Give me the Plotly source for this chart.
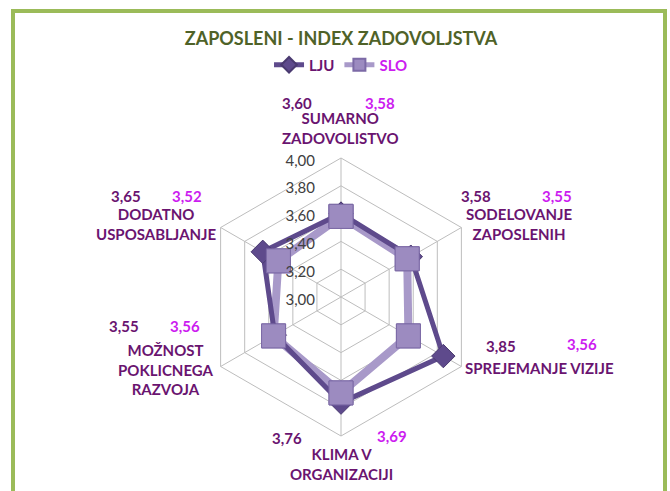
import plotly.graph_objects as go

# ---- data ----
categories = ["SUMARNO ZADOVOLISTVO", "SODELOVANJE ZAPOSLENIH", "SPREJEMANJE VIZIJE",
              "KLIMA V ORGANIZACIJI", "MOŽNOST POKLICNEGA RAZVOJA", "DODATNO USPOSABLJANJE"]
category_labels = ["SUMARNO<br>ZADOVOLISTVO", "SODELOVANJE<br>ZAPOSLENIH", "SPREJEMANJE VIZIJE",
                   "KLIMA V<br>ORGANIZACIJI", "MOŽNOST<br>POKLICNEGA<br>RAZVOJA", "DODATNO<br>USPOSABLJANJE"]
lju = [3.60, 3.58, 3.85, 3.76, 3.55, 3.65]
slo = [3.58, 3.55, 3.56, 3.69, 3.56, 3.52]
radial_ticks = [3.0, 3.2, 3.4, 3.6, 3.8, 4.0]

W, H = 670, 491
FONT = "Lato"
C_LJU = "#5E4A8C"
C_SLO_LINE = "#A899C9"
C_SLO_MK = "#9C8BC0"
C_LBL = "#6A1470"
C_SLO_TXT = "#CC1CF0"

def px(x, y):
    return x / W, 1 - y / H

theta = categories + [categories[0]]

fig = go.Figure()
fig.add_trace(go.Scatterpolar(
    r=slo + [slo[0]], theta=theta, mode="lines+markers",
    name="<span style='color:%s'>SLO</span>" % C_SLO_TXT, legendrank=2,
    line=dict(color=C_SLO_LINE, width=8),
    marker=dict(symbol="square", size=24, color=C_SLO_MK,
                line=dict(color="#7C6AA6", width=1)),
))
fig.add_trace(go.Scatterpolar(
    r=lju + [lju[0]], theta=theta, mode="lines+markers",
    name="<span style='color:%s'>LJU</span>" % C_LBL, legendrank=1,
    line=dict(color=C_LJU, width=5),
    marker=dict(symbol="diamond", size=18, color=C_LJU,
                line=dict(color="#4A3A70", width=1)),
))
fig.add_trace(go.Scatterpolar(
    r=slo, theta=categories, mode="markers", showlegend=False,
    marker=dict(symbol="square", size=24, color=C_SLO_MK,
                line=dict(color="#7C6AA6", width=1)),
))

cx0, cx1 = 202, 480
cy0, cy1 = 158, 436
fig.update_layout(
    width=W, height=H,
    margin=dict(l=0, r=0, t=0, b=0),
    paper_bgcolor="white", plot_bgcolor="white",
    separators=",.",
    font=dict(family=FONT, color="#404040"),
    title=dict(text="<b>ZAPOSLENI - INDEX ZADOVOLJSTVA</b>", x=0.509, xanchor="center",
               y=1 - 39 / H, yanchor="middle",
               font=dict(family=FONT, size=18, color="#4F6228")),
    showlegend=True,
    legend=dict(orientation="h", x=0.509, xanchor="center", y=1 - 65 / H, yanchor="middle",
                font=dict(family=FONT, size=15, color=C_LBL, weight="bold"),
                itemwidth=30, itemsizing="constant", traceorder="normal"),
    polar=dict(
        domain=dict(x=[cx0 / W, cx1 / W], y=[1 - cy1 / H, 1 - cy0 / H]),
        bgcolor="white",
        gridshape="linear",
        radialaxis=dict(range=[3, 4], tickvals=radial_ticks, tickformat=".2f",
                        angle=90, side="counterclockwise", showline=False,
                        gridcolor="#BDBDBD", gridwidth=1,
                        ticks="outside", ticklen=12, tickcolor="rgba(0,0,0,0)",
                        tickfont=dict(family=FONT, size=15, color="#404040")),
        angularaxis=dict(direction="clockwise", rotation=90, showticklabels=False,
                         ticks="", gridcolor="#BDBDBD", linecolor="#BDBDBD", linewidth=1),
    ),
)

# category labels
cat_pos = [(340, 128), (519, 224), (539, 368), (341, 464), (166, 369), (156, 224)]
for lbl, (x, y) in zip(category_labels, cat_pos):
    ax, ay = px(x, y)
    fig.add_annotation(text="<b>%s</b>" % lbl, x=ax, y=ay, xref="paper", yref="paper",
                       xanchor="center", yanchor="middle", showarrow=False,
                       font=dict(family=FONT, size=15, color=C_LBL))

# value labels
lju_pos = [(297, 103), (476, 196), (501, 346), (287, 438), (124, 326), (126, 196)]
slo_pos = [(380, 103), (557, 196), (582, 344), (392, 436), (185, 326), (187, 196)]
for vals, poss, col in ((lju, lju_pos, C_LBL), (slo, slo_pos, C_SLO_TXT)):
    for v, (x, y) in zip(vals, poss):
        ax, ay = px(x, y)
        fig.add_annotation(text="<b>%s</b>" % ("%.2f" % v).replace(".", ","), x=ax, y=ay,
                           xref="paper", yref="paper", xanchor="center", yanchor="middle",
                           showarrow=False, font=dict(family=FONT, size=15, color=col))

# chart frame
fig.add_shape(type="rect", xref="paper", yref="paper",
              x0=13 / W, x1=665 / W, y0=-0.2, y1=1 - 11 / H,
              line=dict(color="#9BBB59", width=4), fillcolor="rgba(0,0,0,0)", layer="below")

fig.write_html("out.html", config={"displayModeBar": False},
               post_script="document.body.style.margin='0';")
